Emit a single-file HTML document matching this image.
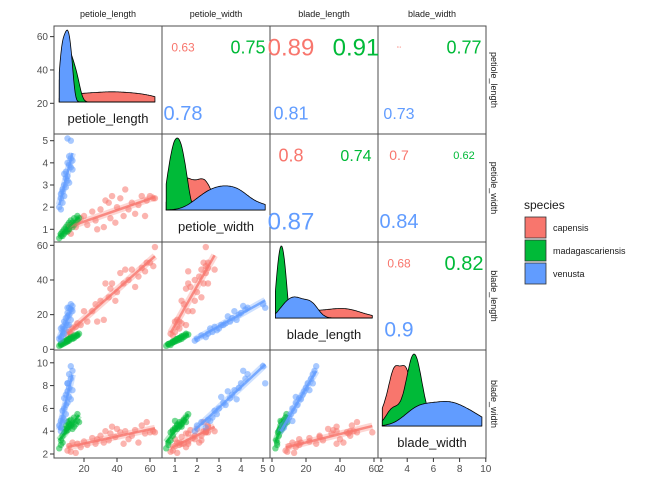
<!DOCTYPE html>
<html><head><meta charset="utf-8"><style>
body{margin:0;background:#fff;}
svg{display:block;font-family:"Liberation Sans",sans-serif;}
</style></head><body>
<svg id="chart" width="672" height="480"></svg>
<script>
// data: [petiole_length, petiole_width, blade_length, blade_width]
const varNames = ["petiole_length","petiole_width","blade_length","blade_width"];
const speciesNames = ["capensis","madagascariensis","venusta"];
const capensis = [[10,0.9,8,2.3],[11,1.0,10,2.7],[12,0.8,9,2.2],[13,1.2,12,3.0],[15,1.1,13,2.1],[16,1.3,15,2.9],[18,1.5,14,2.6],[20,1.6,22,3.1],[22,1.2,16,2.8],[25,1.8,22,3.4],[27,1.4,26,2.9],[28,1.0,16,3.3],[30,1.9,28,3.6],[32,1.1,17,3.0],[33,2.3,38,4.0],[35,2.2,30,3.2],[36,1.5,35,3.8],[37,2.5,38,4.4],[39,1.3,28,3.5],[40,2.0,33,4.2],[42,2.4,44,3.9],[44,1.6,38,2.9],[45,2.8,46,4.0],[47,1.9,40,3.3],[49,2.2,46,3.6],[51,1.7,36,4.1],[53,2.1,42,3.0],[55,2.5,47,4.5],[57,1.6,45,3.8],[58,2.3,50,4.8],[60,2.5,50,3.9],[62,2.4,48,4.0],[63,2.4,59,3.9]];
const madagascariensis = [[5,0.6,2,2.5],[6,0.7,3,2.8],[6,0.8,2.5,3.2],[7,0.7,3,3.0],[7,0.9,4,3.6],[8,0.8,3.5,3.9],[8,1.0,4.5,4.2],[9,0.9,4,4.0],[9,1.1,5,4.5],[10,1.0,5,4.3],[10,1.2,5.5,4.8],[10,0.9,4.5,4.1],[11,1.1,6,4.6],[11,1.3,6,4.4],[11,1.0,5,4.9],[12,1.2,6.5,4.5],[12,1.4,7,5.0],[13,1.1,6,4.2],[13,1.3,7,4.7],[14,1.2,6.5,4.4],[14,1.5,8,5.2],[15,1.3,7.5,4.6],[16,1.4,8,4.9],[16,1.6,8.5,5.5],[17,1.5,9,4.8]];
const venusta = [[6,1.9,5,4.0],[5,2.0,6,4.5],[7,2.2,8,4.8],[6,2.4,7,4.3],[8,2.5,9,5.0],[7,2.7,10,5.2],[9,2.9,11,5.5],[6,2.6,12,4.9],[8,3.0,12,6.0],[10,3.2,14,6.5],[7,2.8,13,5.8],[9,3.3,15,6.3],[8,3.5,16,6.9],[11,3.1,14,7.0],[9,3.6,18,7.2],[12,3.8,17,6.8],[10,3.4,19,7.5],[11,3.9,20,7.8],[10,4.0,21,8.2],[13,3.7,22,7.6],[12,4.2,23,8.6],[11,4.3,24,9.0],[13,4.1,25,9.3],[12,5.0,26,9.7],[10,5.1,24,8.2]];
const ticks = [[20,40,60],[1,2,3,4,5],[0,20,40,60],[2,4,6,8,10]];
// correlation labels per upper panel [row, col, species, text, fontSize]
const corrLabels = [
 [0,1,0,"0.63",12],[0,1,1,"0.75",18],[0,1,2,"0.78",20],
 [0,2,0,"0.89",24],[0,2,1,"0.91",24],[0,2,2,"0.81",18],
 [0,3,0,"0.1",3],[0,3,1,"0.77",18],[0,3,2,"0.73",16],
 [1,2,0,"0.8",18],[1,2,1,"0.74",16],[1,2,2,"0.87",24],
 [1,3,0,"0.7",14],[1,3,1,"0.62",11],[1,3,2,"0.84",20],
 [2,3,0,"0.68",12],[2,3,1,"0.82",20],[2,3,2,"0.9",21]];

const groups=[capensis,madagascariensis,venusta];
const colors=["#F8766D","#00BA38","#619CFF"];
const L=54, T=26, S=108;
const xs=[v=>84+(v-20)*1.65, v=>175+(v-1)*22, v=>272+v*1.7, v=>381+(v-2)*13.1];
const ys=[v=>103.3-(v-20)*1.667, v=>229.3-(v-1)*22.15, v=>349.3-v*1.733, v=>454-(v-2)*11.4];
const svg=document.getElementById('chart');
const NS="http://www.w3.org/2000/svg";
function mk(tag,attrs,parent){const e=document.createElementNS(NS,tag);for(const k in attrs)e.setAttribute(k,attrs[k]);(parent||svg).appendChild(e);return e;}
const defs=mk('defs',{});
for(let i=0;i<4;i++)for(let j=0;j<4;j++){const cp=mk('clipPath',{id:'c'+i+j},defs);mk('rect',{x:L+j*S,y:T+i*S,width:S,height:S},cp);}

for(let i=0;i<4;i++)for(let j=0;j<4;j++){
  const g=mk('g',{'clip-path':'url(#c'+i+j+')'});
  
  
  const px=L+j*S, py=T+i*S;
  if(i>j){
    groups.forEach((d,s)=>{
      d.forEach(r=>{const c=mk('circle',{cx:xs[j](r[j]),cy:ys[i](r[i]),r:3.2,fill:colors[s],'fill-opacity':0.55},g);
        
        });
    });
    groups.forEach((d,s)=>{
      const n=d.length;let mx=0,my=0;d.forEach(r=>{mx+=r[j];my+=r[i];});mx/=n;my/=n;
      let sxy=0,sxx=0;d.forEach(r=>{sxy+=(r[j]-mx)*(r[i]-my);sxx+=(r[j]-mx)**2;});
      const b=sxy/sxx,a=my-b*mx;let lo=Math.min(...d.map(r=>r[j])),hi=Math.max(...d.map(r=>r[j]));
      mk('line',{x1:xs[j](lo),y1:ys[i](a+b*lo),x2:xs[j](hi),y2:ys[i](a+b*hi),stroke:colors[s],'stroke-width':7,'stroke-opacity':0.3},g);
      const ln=mk('line',{x1:xs[j](lo),y1:ys[i](a+b*lo),x2:xs[j](hi),y2:ys[i](a+b*hi),stroke:colors[s],'stroke-width':2.5,'stroke-opacity':0.8},g);
      
      
    });
  } else if(i===j){
    const all=[].concat(...groups.map(d=>d.map(r=>r[j])));
    const lo=Math.min(...all),hi=Math.max(...all);
    const N=120;const curves=groups.map(d=>{const v=d.map(r=>r[j]);const n=v.length;const m=v.reduce((p,q)=>p+q,0)/n;
      const sd=Math.sqrt(v.reduce((p,q)=>p+(q-m)**2,0)/(n-1));const h=1.06*sd*Math.pow(n,-0.2);
      const pts=[];for(let k=0;k<=N;k++){const x=lo+(hi-lo)*k/N;let f=0;v.forEach(q=>{f+=Math.exp(-0.5*((x-q)/h)**2);});pts.push([x,f/(n*h*2.5066)]);}return pts;});
    const maxD=Math.max(...curves.map(c=>Math.max(...c.map(p=>p[1]))));
    const base=py+76,H=72;
    curves.forEach((c,s)=>{
      let dstr='M'+xs[j](lo)+','+base;c.forEach(p=>{dstr+=' L'+xs[j](p[0]).toFixed(1)+','+(base-p[1]/maxD*H).toFixed(1);});dstr+=' L'+xs[j](hi)+','+base+' Z';
      const pa=mk('path',{d:dstr,fill:colors[s],stroke:'#000','stroke-width':0.8},g);
      
      
    });
    const t=mk('text',{x:px+S/2,y:py+97,'text-anchor':'middle','font-size':13,fill:'#1a1a1a'},g);t.textContent=varNames[j];
    
    
  }
  mk('rect',{x:px,y:py,width:S,height:S,fill:'none',stroke:'#4d4d4d','stroke-width':1});
}
corrLabels.forEach(c=>{
  const [i,j,s,txt,fs]=c;const px=L+j*S,py=T+i*S;
  const pos=[[px+21,py+21],[px+86,py+21],[px+21,py+87]][s];
  const t=mk('text',{x:pos[0],y:pos[1]+fs*0.36,'text-anchor':'middle','font-size':fs,fill:colors[s]});
  t.textContent=txt;
  
  
});
for(let k=0;k<4;k++){
  ticks[k].forEach(v=>{
    const x=xs[k](v);mk('line',{x1:x,y1:T+4*S,x2:x,y2:T+4*S+4,stroke:'#333'});
    const t=mk('text',{x:x,y:T+4*S+14,'text-anchor':'middle','font-size':10,fill:'#4d4d4d'});t.textContent=v;
    
    
    const y=ys[k](v);mk('line',{x1:L-4,y1:y,x2:L,y2:y,stroke:'#333'});
    const u=mk('text',{x:L-6,y:y+3.5,'text-anchor':'end','font-size':10,fill:'#4d4d4d'});u.textContent=v;
    
    
  });
  const st=mk('text',{x:L+k*S+S/2,y:17,'text-anchor':'middle','font-size':9,fill:'#1a1a1a'});st.textContent=varNames[k];
  
  
  const cy=T+k*S+S/2;
  const rs=mk('text',{x:0,y:0,'text-anchor':'middle','font-size':9,fill:'#1a1a1a',transform:'translate(491,'+cy+') rotate(90)'});rs.textContent=varNames[k];
  
  
}
const lg=mk('g',{});


const lt=mk('text',{x:524,y:209,'font-size':12,fill:'#1a1a1a'},lg);lt.textContent='species';
speciesNames.forEach((n,s)=>{
  const y=217+s*23;
  const r=mk('rect',{x:525,y:y,width:21,height:21,fill:colors[s],stroke:'#333','stroke-width':0.8},lg);
  
  
  const t=mk('text',{x:553,y:y+14,'font-size':9,fill:'#1a1a1a'},lg);t.textContent=n;
  
  
});
</script>
</body></html>
